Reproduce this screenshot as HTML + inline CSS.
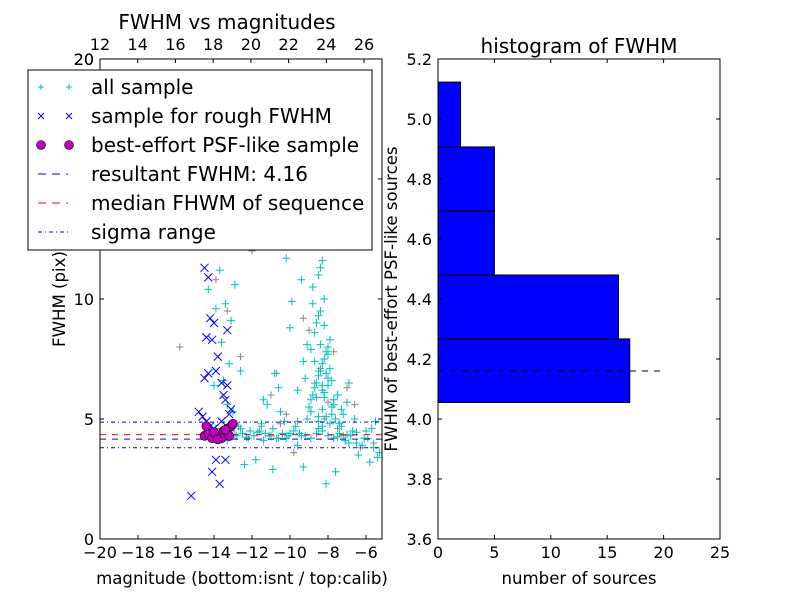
<!DOCTYPE html>
<html><head><meta charset="utf-8"><style>
body{margin:0;background:#fff}
svg text{font-family:"DejaVu Sans","Liberation Sans",sans-serif}
</style></head><body>
<svg id="fig" width="800" height="600" xmlns="http://www.w3.org/2000/svg">
<rect width="800" height="600" fill="#fff"/>
<g id="left"></g>
<g id="right"></g>
</svg>
<script>
// ---------- data ----------
const allMag = [-14.2,-13.8,-13.5,-13.1,-12.8,-12.5,-12.2,-11.9,-11.6,-11.3,-11.0,-10.7,-10.4,-10.1,-9.8,-9.5,-9.2,-8.9,-8.6,-8.3,-8.0,-7.7,-7.4,-7.1,-6.8,-6.5,-6.2,-5.9,-5.6,-5.3,
 -13.9,-13.3,-12.7,-12.1,-11.5,-10.9,-10.3,-9.7,-9.1,-8.5,-7.9,-7.3,-6.7,-6.1,-5.5,
 -9.0,-8.8,-8.6,-8.4,-8.2,-8.0,-7.8,-8.9,-8.7,-8.5,-8.3,-8.1,-7.9,-7.7,-8.6,-8.4,-8.2,-8.0,-8.8,-8.5,-8.3,-8.1,-7.9,-8.6,-8.4,-8.2,-8.7,-8.5,-8.3,-8.0,-8.4,-8.2,-8.6,-8.3,-8.5,
 -9.6,-9.3,-10.0,-10.5,-9.9,-9.4,-10.8,-11.2,-10.2,-9.7,-9.1,-7.5,-7.2,-6.9,-7.4,-6.6,-7.0,
 -13.5,-13.2,-13.6,-13.1,-13.4,-12.9,-13.3,-13.7,-13.0,-12.6,-14.0,-13.9,-14.3,-12.0,-11.4,-10.6,-9.3,-8.1,-6.4,-5.8,-5.4,-11.8,-10.9,-12.4,-7.6,
 -8.9,-8.6,-8.3,-8.1,-7.8,-8.7,-8.4,-8.2,-8.5,-8.0,-7.7,-9.2,-8.8,-7.6,-7.3,-8.5,-8.1,-8.9,-8.3,-7.8,
 -12.9,-12.3,-11.7,-11.1,-10.6,-10.0,-9.4,-7.5,-7.0,-6.5,-6.0,-12.6,-11.4,-10.2,-9.6,-6.9,-5.7];
const allFwhm = [4.3,4.4,4.2,4.5,4.3,4.4,4.2,4.3,4.5,4.4,4.3,4.2,4.4,4.3,4.5,4.4,4.3,4.2,4.4,4.5,4.3,4.2,4.4,4.1,4.3,4.0,3.9,4.2,3.8,3.6,
 4.6,4.1,4.7,4.5,4.8,4.6,4.9,4.7,5.0,4.6,4.8,4.7,4.5,4.2,4.9,
 5.5,6.0,6.5,7.0,7.5,8.0,5.2,5.8,6.3,6.8,7.3,7.8,8.3,5.6,9.0,9.5,10.0,6.7,10.5,11.0,11.6,12.2,7.1,12.8,13.4,6.1,8.6,9.3,5.4,7.7,11.3,5.9,13.8,6.4,5.1,
 6.2,7.4,8.8,5.3,9.9,10.8,6.9,5.6,11.7,12.6,8.1,6.0,5.2,6.5,4.8,5.0,5.7,
 6.6,7.3,8.2,9.1,9.8,10.6,5.6,11.2,5.3,7.0,6.4,9.6,10.4,12.1,5.8,6.3,3.0,2.3,3.5,3.2,3.4,3.3,2.9,3.1,2.8,
 5.3,5.9,6.2,6.9,5.5,7.4,8.1,8.9,7.0,6.4,5.8,6.7,9.8,5.0,5.4,4.9,5.1,7.9,4.7,6.6,
 4.35,4.25,4.45,4.3,4.2,4.4,4.3,4.25,4.35,4.45,4.5,4.6,4.1,4.2,3.9,4.0,4.6];
const grayMag = [-15.8,-14.8,-13.3,-12.0,-11.0,-10.2,-9.6,-9.0,-8.4,-8.0,-7.5,-7.0,-6.3,-5.6,-13.9,-12.6,-11.5,-10.7,-9.3,-8.7,-8.2,-7.7,-7.2,-6.6,-9.8,-10.5];
const grayFwhm = [8.0,12.7,9.5,12.0,6.0,5.2,4.9,8.7,7.1,5.7,4.6,6.3,3.8,4.0,10.8,7.6,4.7,6.9,9.2,6.5,5.0,7.8,4.3,5.6,3.6,4.8];
const roughMag = [-15.2,-14.5,-14.3,-14.4,-14.1,-14.0,-13.8,-13.9,-13.6,-13.3,-13.5,-13.4,-13.1,-13.2,-14.2,-14.6,-14.3,-13.7,-13.4,-13.9,-14.1,-13.6,-14.5,-14.0,-14.2,-13.3,-14.8,-14.4];
const roughFwhm = [1.8,11.3,10.9,8.4,8.3,9.0,7.6,7.0,6.5,6.4,6.0,5.8,5.4,5.2,4.7,5.1,6.9,2.3,3.3,3.3,2.8,4.9,6.7,4.6,9.2,8.7,5.3,4.9];
const psfMag = [-14.5,-14.3,-14.1,-13.9,-13.7,-13.5,-13.3,-13.1,-13.0,-14.4,-14.0,-13.6,-13.2,-13.8,-13.4];
const psfFwhm = [4.3,4.4,4.2,4.35,4.25,4.5,4.6,4.7,4.8,4.7,4.45,4.2,4.3,4.15,4.55];
const resultFwhm = 4.16;
const medianFwhm = 4.35;
const sigmaRange = [3.8, 4.87];
const xTicks = [-20,-18,-16,-14,-12,-10,-8,-6];
const yTicks = [0,5,10,15,20];
const topTicks = [12,14,16,18,20,22,24,26];
const binEdges = [4.055,4.267,4.48,4.693,4.907,5.123];
const binCounts = [17,16,5,5,2];
const hxTicks = [0,5,10,15,20,25];
const hyTicks = [3.6,3.8,4.0,4.2,4.4,4.6,4.8,5.0,5.2];

// ---------- helpers ----------
const NS="http://www.w3.org/2000/svg";
function mk(tag,attrs,parent,text){const e=document.createElementNS(NS,tag);for(const k in attrs)e.setAttribute(k,attrs[k]);if(text!==undefined)e.textContent=text;parent.appendChild(e);return e;}
const L=document.getElementById('left'), R=document.getElementById('right');
const TF=16;
const lx0=100,lx1=382,ly0=59,ly1=539;
const xs=v=>lx0+(v+20)*19, ys=v=>ly1-v*24;
const ts=v=>lx0+(v-12)*18.86;
const clip=mk('clipPath',{id:'lc'},L);mk('rect',{x:lx0,y:ly0,width:lx1-lx0,height:ly1-ly0},clip);
const plot=mk('g',{'clip-path':'url(#lc)'},L);

function plus(g,x,y,c,s){mk('path',{d:`M${x-s},${y}h${2*s}M${x},${y-s}v${2*s}`,stroke:c,'stroke-width':1,fill:'none'},g);}
function cross(g,x,y,c,s){mk('path',{d:`M${x-s},${y-s}L${x+s},${y+s}M${x-s},${y+s}L${x+s},${y-s}`,stroke:c,'stroke-width':1,fill:'none'},g);}
const gg=mk('g',{},plot);
grayMag.forEach((m,i)=>plus(gg,xs(m),ys(grayFwhm[i]),'#888',3.5));
const cg=mk('g',{},plot);
allMag.forEach((m,i)=>plus(cg,xs(m),ys(allFwhm[i]),'#00bfbf',4));
const bg=mk('g',{},plot);
roughMag.forEach((m,i)=>cross(bg,xs(m),ys(roughFwhm[i]),'#0000ff',4));
const lg=mk('g',{},plot);
mk('line',{x1:lx0,x2:lx1,y1:ys(resultFwhm),y2:ys(resultFwhm),stroke:'#0000ff','stroke-dasharray':'6,6'},lg);
mk('line',{x1:lx0,x2:lx1,y1:ys(medianFwhm),y2:ys(medianFwhm),stroke:'#ff0000','stroke-dasharray':'6,6'},lg);
sigmaRange.forEach(s=>mk('line',{x1:lx0,x2:lx1,y1:ys(s),y2:ys(s),stroke:'#0000ff','stroke-dasharray':'4,3,1,3'},lg));
const pg=mk('g',{},plot);
psfMag.forEach((m,i)=>mk('circle',{cx:xs(m),cy:ys(psfFwhm[i]),r:4.5,fill:'#bf00bf',stroke:'#000','stroke-width':0.6},pg));
mk('rect',{x:lx0,y:ly0,width:lx1-lx0,height:ly1-ly0,fill:'none',stroke:'#000'},L);
xTicks.forEach(v=>{const x=xs(v);mk('line',{x1:x,x2:x,y1:ly1,y2:ly1-4,stroke:'#000'},L);
 const t=mk('text',{x:x,y:ly1+19,'font-size':TF,'text-anchor':'middle'},L,'\u2212'+Math.abs(v));});
topTicks.forEach(v=>{const x=ts(v);mk('line',{x1:x,x2:x,y1:ly0,y2:ly0+4,stroke:'#000'},L);
 const t=mk('text',{x:x,y:ly0-9,'font-size':TF,'text-anchor':'middle'},L,String(v));});
yTicks.forEach(v=>{const y=ys(v);mk('line',{x1:lx0,x2:lx0+4,y1:y,y2:y,stroke:'#000'},L);mk('line',{x1:lx1,x2:lx1-4,y1:y,y2:y,stroke:'#000'},L);
 const t=mk('text',{x:lx0-6,y:y+6,'font-size':TF,'text-anchor':'end'},L,String(v));});
const leg=mk('g',{},L);
mk('rect',{x:28,y:70,width:344,height:180,fill:'#fff',stroke:'#000'},leg);
const labels=['all sample','sample for rough FWHM','best-effort PSF-like sample','resultant FWHM: 4.16','median FHWM of sequence','sigma range'];
labels.forEach((s,i)=>{const y=87+i*29;
 if(i==0){plus(leg,41,y,'#00bfbf',3);plus(leg,69,y,'#00bfbf',3);}
 if(i==1){cross(leg,41,y,'#0000ff',3);cross(leg,69,y,'#0000ff',3);}
 if(i==2){mk('circle',{cx:41,cy:y,r:4.5,fill:'#bf00bf',stroke:'#000','stroke-width':0.6},leg);mk('circle',{cx:69,cy:y,r:4.5,fill:'#bf00bf',stroke:'#000','stroke-width':0.6},leg);}
 if(i==3)mk('line',{x1:38,x2:68,y1:y,y2:y,stroke:'#0000ff','stroke-dasharray':'8,6'},leg);
 if(i==4)mk('line',{x1:38,x2:68,y1:y,y2:y,stroke:'#ff0000','stroke-dasharray':'8,6'},leg);
 if(i==5)mk('line',{x1:38,x2:68,y1:y,y2:y,stroke:'#0000ff','stroke-dasharray':'4,3,1,3'},leg);
 const t=mk('text',{x:91,y:y+7,'font-size':20},leg,s);});
let t;
t=mk('text',{x:227,y:29,'font-size':20,'text-anchor':'middle'},L,'FWHM vs magnitudes');
t=mk('text',{x:94,y:65,'font-size':TF,'text-anchor':'end'},L,'20');
t=mk('text',{x:242,y:584,'font-size':16.6,'text-anchor':'middle'},L,'magnitude (bottom:isnt / top:calib)');
t=mk('text',{x:0,y:0,'font-size':16.6,'text-anchor':'middle',transform:'translate(65,299) rotate(-90)'},L,'FWHM (pix)');

// ---------- histogram ----------
const hx0=438,hx1=720,hy0=59,hy1=539;
const hxs=v=>hx0+v*(hx1-hx0)/25, hys=v=>hy1-(v-3.6)*300;
binCounts.forEach((c,i)=>{const r=mk('rect',{x:hx0,y:hys(binEdges[i+1]),width:hxs(c)-hx0,height:hys(binEdges[i])-hys(binEdges[i+1]),fill:'#0000ff',stroke:'#000'},R);
 });
const dl=mk('line',{x1:hx0,x2:hxs(20),y1:hys(resultFwhm),y2:hys(resultFwhm),stroke:'#000','stroke-dasharray':'6,6'},R);

mk('rect',{x:hx0,y:hy0,width:hx1-hx0,height:hy1-hy0,fill:'none',stroke:'#000'},R);
hxTicks.forEach(v=>{const x=hxs(v);mk('line',{x1:x,x2:x,y1:hy1,y2:hy1-4,stroke:'#000'},R);mk('line',{x1:x,x2:x,y1:hy0,y2:hy0+4,stroke:'#000'},R);
 const t=mk('text',{x:x,y:hy1+19,'font-size':TF,'text-anchor':'middle'},R,String(v));});
hyTicks.forEach(v=>{const y=hys(v);mk('line',{x1:hx0,x2:hx0+4,y1:y,y2:y,stroke:'#000'},R);mk('line',{x1:hx1,x2:hx1-4,y1:y,y2:y,stroke:'#000'},R);
 const t=mk('text',{x:hx0-6,y:y+6,'font-size':TF,'text-anchor':'end'},R,v.toFixed(1));});
t=mk('text',{x:579,y:53,'font-size':20,'text-anchor':'middle'},R,'histogram of FWHM');
t=mk('text',{x:579,y:584,'font-size':16.6,'text-anchor':'middle'},R,'number of sources');
t=mk('text',{x:0,y:0,'font-size':16.6,'text-anchor':'middle',transform:'translate(397,299) rotate(-90)'},R,'FWHM of best-effort PSF-like sources');
</script>
</body></html>
